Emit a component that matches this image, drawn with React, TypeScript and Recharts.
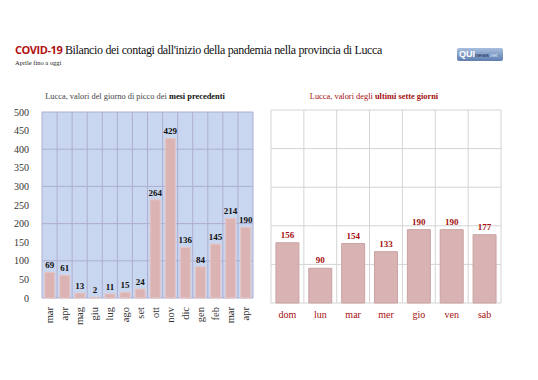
import { BarChart, Bar, XAxis, YAxis, CartesianGrid, LabelList } from 'recharts'

const mesi = ['mar', 'apr', 'mag', 'giu', 'lug', 'ago', 'set', 'ott', 'nov', 'dic', 'gen', 'feb', 'mar', 'apr']
const piccoMese = [69, 61, 13, 2, 11, 15, 24, 264, 429, 136, 84, 145, 214, 190]

const giorni = ['dom', 'lun', 'mar', 'mer', 'gio', 'ven', 'sab']
const ultimiGiorni = [156, 90, 154, 133, 190, 190, 177]

const yTicks = [0, 50, 100, 150, 200, 250, 300, 350, 400, 450, 500]

const serif = '"Liberation Serif", serif'
const darkRed = '#a50f0f'

const monthData = mesi.map((m, i) => ({ key: `${m}-${i}`, mese: m, valore: piccoMese[i] }))
const dayData = giorni.map((g, i) => ({ giorno: g, valore: ultimiGiorni[i] }))

// linee verticali sui confini delle categorie
const boundaries = (n: number) => (p: any) => {
  const { left, width } = p.offset
  return Array.from({ length: n + 1 }, (_, i) => left + (i * width) / n)
}

const MonthTick = (props: any) => {
  const { x, y, payload, index } = props
  return (
    <text
      x={x}
      y={y + 1}
      transform={`rotate(-90, ${x}, ${y + 1})`}
      textAnchor="end"
      dy="0.35em"
      fontSize={10.5}
      fontFamily={serif}
      fill="#333"
    >
      {mesi[index] ?? payload.value}
    </text>
  )
}

const App = () => {
  return (
    <div style={{ position: 'absolute', left: 0, top: 0, width: 538, height: 380, background: '#fff', fontFamily: serif }}>
      <div style={{ position: 'absolute', left: 15, top: 42, fontSize: 12, letterSpacing: -0.35, whiteSpace: 'nowrap', color: '#111' }}>
        <span style={{ fontFamily: '"Open Sans", sans-serif', fontWeight: 700, color: '#b01010', fontSize: 11, letterSpacing: -0.45 }}>
          COVID-19
        </span>{' '}
        Bilancio dei contagi dall'inizio della pandemia nella provincia di Lucca
      </div>
      <div style={{ position: 'absolute', left: 15, top: 59, fontSize: 6.5, color: '#222' }}>Aprile fino a oggi</div>
      <div
        style={{
          position: 'absolute',
          left: 457,
          top: 48,
          width: 46,
          height: 13,
          borderRadius: 2,
          background: 'linear-gradient(#a8bedd, #5e7fb0)',
          fontFamily: '"Liberation Sans", sans-serif',
          fontSize: 9,
          lineHeight: '13px',
          color: '#fff',
          paddingLeft: 2,
          boxSizing: 'border-box',
          whiteSpace: 'nowrap',
        }}
      >
        <b>QUI</b>
        <span style={{ fontSize: 6, color: '#1d2d55' }}>news</span>
        <span style={{ fontSize: 5, color: '#dde8f5' }}>.net</span>
      </div>

      <div style={{ position: 'absolute', left: 0, width: 270, top: 92, textAlign: 'center', fontSize: 8.4, color: '#444' }}>
        Lucca, valori del giorno di picco dei <b style={{ color: '#111' }}>mesi precedenti</b>
      </div>
      <div style={{ position: 'absolute', left: 254, width: 240, top: 92, textAlign: 'center', fontSize: 8.4, color: darkRed }}>
        Lucca, valori degli <b>ultimi sette giorni</b>
      </div>

      <div style={{ position: 'absolute', left: 0, top: 0 }}>
        <BarChart width={260} height={380} data={monthData} margin={{ top: 112, right: 7, left: 0, bottom: 42 }} barCategoryGap="18%">
          <CartesianGrid
            fill="#c8d6ef"
            fillOpacity={1}
            stroke="#aeaed2"
            verticalCoordinatesGenerator={boundaries(mesi.length)}
          />
          <XAxis dataKey="key" height={40} tickLine={false} axisLine={false} interval={0} tick={<MonthTick />} />
          <YAxis
            width={42}
            domain={[0, 500]}
            ticks={yTicks}
            tickLine={false}
            axisLine={false}
            tick={{ fontSize: 10, fill: '#333', fontFamily: serif }}
            tickMargin={7}
          />
          <Bar dataKey="valore" fill="#dbb3b3" stroke="#e6c6c6" isAnimationActive={false}>
            <LabelList dataKey="valore" position="top" offset={4} fontSize={9} fontWeight={700} fill="#111" fontFamily={serif} />
          </Bar>
        </BarChart>
      </div>

      <div style={{ position: 'absolute', left: 262, top: 0 }}>
        <BarChart width={276} height={380} data={dayData} margin={{ top: 110, right: 37, left: 9, bottom: 47 }} barCategoryGap="15%">
          <CartesianGrid stroke="#d4d4d4" verticalCoordinatesGenerator={boundaries(giorni.length)} />
          <XAxis
            dataKey="giorno"
            height={30}
            tickLine={false}
            axisLine={false}
            tick={{ fontSize: 10, fill: darkRed, fontFamily: serif }}
            tickMargin={2}
          />
          <YAxis hide width={0} domain={[0, 500]} ticks={yTicks} />
          <Bar dataKey="valore" fill="#d9b3b3" stroke="#c9a3a3" isAnimationActive={false}>
            <LabelList dataKey="valore" position="top" offset={5} fontSize={9} fontWeight={700} fill={darkRed} fontFamily={serif} />
          </Bar>
        </BarChart>
      </div>
    </div>
  )
}

export default App
